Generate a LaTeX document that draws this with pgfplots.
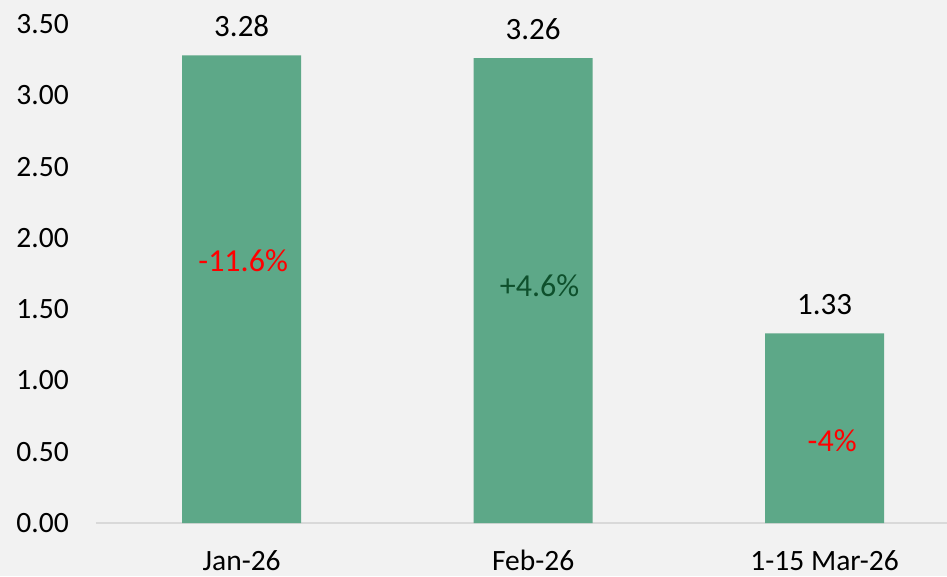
\documentclass[border=0pt]{standalone}
\usepackage{pgfplots}
\pgfplotsset{compat=1.18}
\usepackage{fontspec}
\setmainfont{Carlito}
\definecolor{bgcol}{RGB}{242,242,242}
\definecolor{barcol}{RGB}{93,168,136}
\definecolor{axcol}{RGB}{217,217,217}
\definecolor{dkgreen}{RGB}{14,80,44}
\definecolor{lblred}{RGB}{255,0,0}
\begin{document}
\begin{tikzpicture}[font=\fontsize{29.5}{35}\selectfont]
\useasboundingbox (-96pt,-53pt) rectangle (851pt,523pt);
\fill[bgcol] (-96pt,-53pt) rectangle (851pt,523pt);
\begin{axis}[
  at={(0pt,0pt)}, anchor=south west,
  width=851pt, height=499pt, scale only axis,
  xmin=-0.5, xmax=2.42, ymin=0, ymax=3.5,
  axis lines*=left,
  y axis line style={draw=none},
  x axis line style={draw=axcol, line width=2pt, -},
  major tick length=0pt,
  ytick={0,0.5,1,1.5,2,2.5,3,3.5},
  yticklabel style={anchor=east, inner sep=0pt, xshift=-27pt, /pgf/number format/.cd, fixed, fixed zerofill, precision=2},
  /pgf/number format/assume math mode=true,
  xtick={0,1,2},
  xticklabels={Jan-26,Feb-26,1-15 Mar-26},
  xticklabel style={anchor=base, inner sep=0pt, yshift=-47pt},
  clip=false,
]
\addplot[ybar, bar width=119pt, fill=barcol, draw=none,
  nodes near coords,
  nodes near coords style={anchor=center, inner sep=0pt, yshift=29pt, text=black, font=\fontsize{31}{37}\selectfont, /pgf/number format/.cd, fixed, fixed zerofill, precision=2},
] coordinates {(0,3.28) (1,3.26) (2,1.33)};
\node[text=lblred, font=\fontsize{32}{38}\selectfont, inner sep=0pt] at (axis cs:0.005,1.837) {-11.6\%};
\node[text=dkgreen, font=\fontsize{32}{38}\selectfont, inner sep=0pt] at (axis cs:1.022,1.662) {+4.6\%};
\node[text=lblred, font=\fontsize{32}{38}\selectfont, inner sep=0pt] at (axis cs:2.026,0.575) {-4\%};
\end{axis}
\end{tikzpicture}
\end{document}
